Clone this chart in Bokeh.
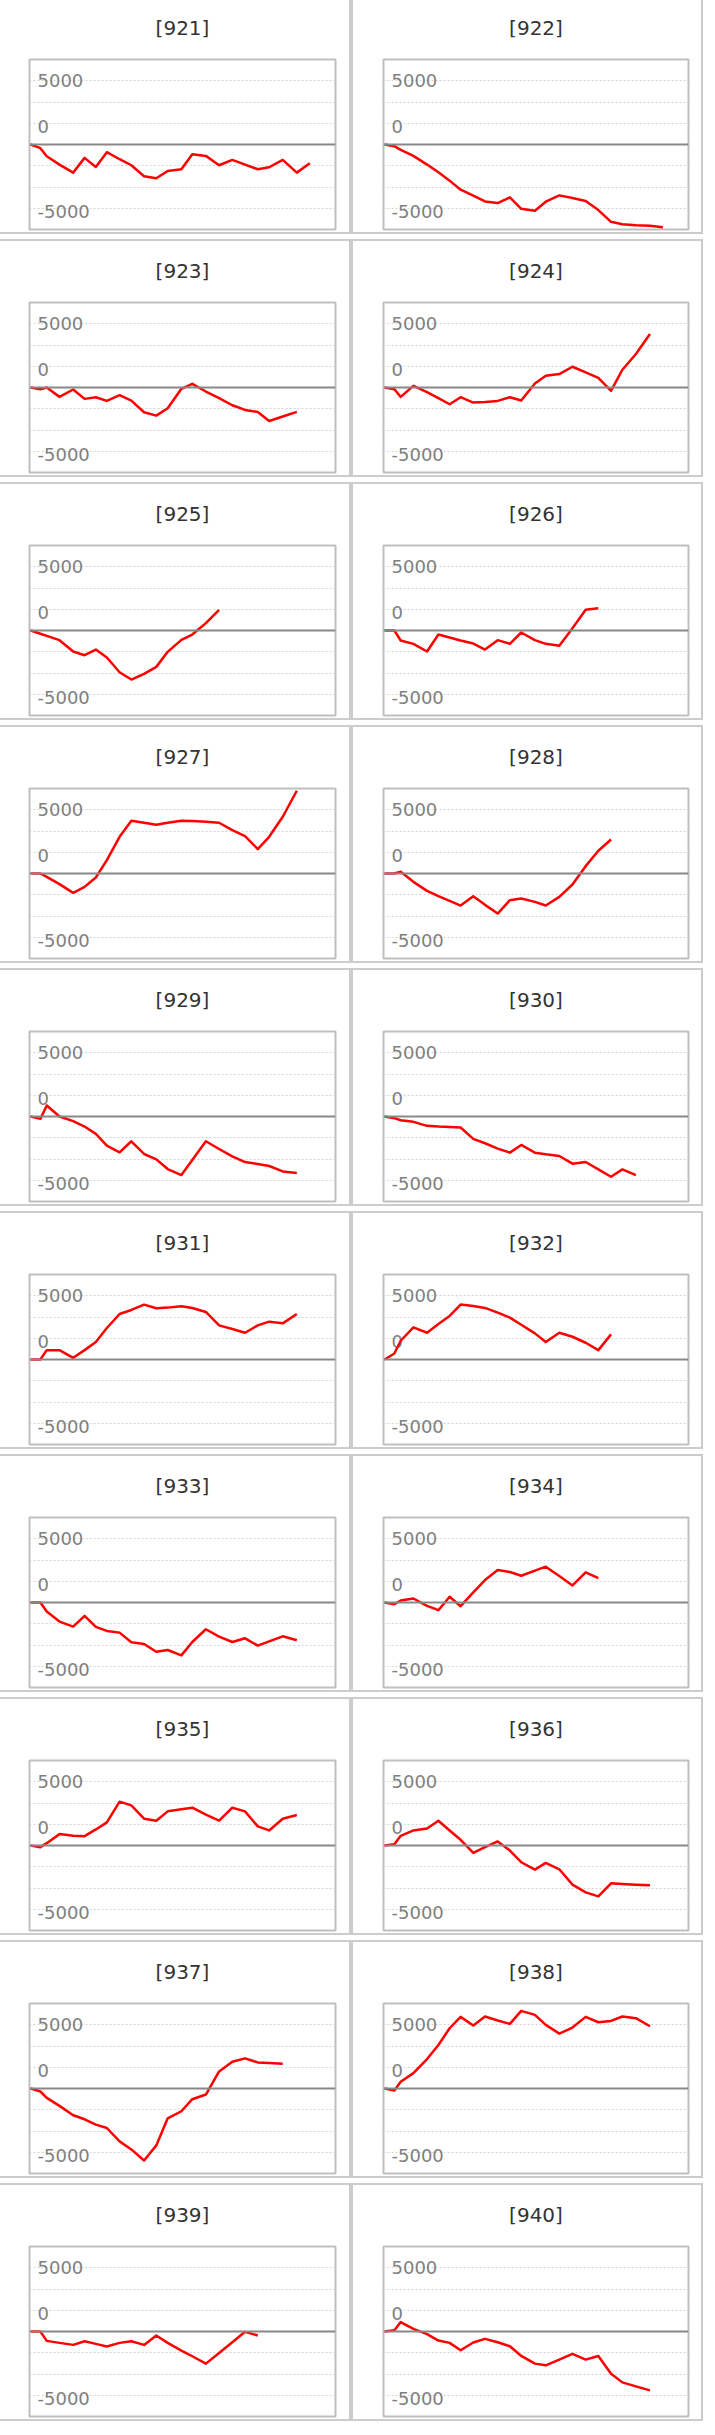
from bokeh.plotting import figure
from bokeh.layouts import column, row
from bokeh.models import Range1d, Span, FixedTicker, ColumnDataSource
from bokeh.core.properties import value
from bokeh.embed import file_html
from bokeh.resources import INLINE

# ---------------- data ----------------
panel_ids = [921, 922, 923, 924, 925, 926, 927, 928, 929, 930,
             931, 932, 933, 934, 935, 936, 937, 938, 939, 940]

# common sample positions along the x axis (axis span 0..25)
x_pos = [0.1, 0.89, 1.41, 2.45, 3.57, 4.5, 5.42, 6.32, 7.36, 8.32, 9.36, 10.36,
         11.29, 12.41, 13.3, 14.41, 15.49, 16.57, 17.61, 18.65, 19.58, 20.69, 21.84, 22.9]

s921 = [0, -289, -919, -1575, -2205, -1050, -1759, -604, -1155, -1628, -2494, -2651,
        -2074, -1943, -761, -893, -1628, -1208, -1575, -1943, -1785, -1208, -2205, -1470]
s922 = [0, -131, -420, -893, -1575, -2179, -2835, -3544, -4016, -4463, -4594, -4148,
        -5040, -5198, -4489, -3990, -4200, -4436, -5145, -6064, -6248, -6326, -6379, -6484]
s923 = [0, -131, 0, -735, -158, -893, -761, -1050, -604, -1024, -1943, -2205,
        -1628, -105, 289, -315, -840, -1391, -1759, -1916, -2625, -2270, -1916]
s924 = [0, -131, -735, 131, -368, -840, -1313, -761, -1181, -1129, -1050, -761,
        -1024, 315, 919, 1050, 1628, 1181, 761, -263, 1391, 2625, 4200]
s925 = [0, -255, -425, -759, -1649, -1937, -1492, -2120, -3271, -3847, -3402, -2853,
        -1675, -733, -314, 576, 1622]
s926 = [0, 0, -785, -1047, -1649, -314, -550, -785, -1021, -1492, -759, -1047,
        -157, -759, -1047, -1204, 183, 1622, 1753]
s927 = [0, 0, -262, -837, -1518, -1047, -314, 1047, 2879, 4135, 3978, 3821,
        3978, 4135, 4109, 4056, 3978, 3402, 2931, 1910, 2879, 4449, 6490]
s928 = [0, 0, 131, -654, -1361, -1780, -2146, -2512, -1780, -2460, -3140, -2094,
        -1963, -2224, -2512, -1832, -864, 576, 1780, 2669]
s929 = [0, -184, 866, 0, -368, -788, -1365, -2284, -2809, -1943, -2940, -3360,
        -4121, -4594, -3413, -1943, -2546, -3124, -3570, -3728, -3885, -4305, -4436]
s930 = [0, -131, -289, -420, -735, -788, -814, -866, -1759, -2100, -2520, -2835,
        -2231, -2835, -2966, -3098, -3701, -3570, -4148, -4725, -4148, -4594]
s931 = [0, 0, 735, 735, 131, 735, 1365, 2468, 3570, 3885, 4305, 4016,
        4069, 4174, 4043, 3728, 2678, 2389, 2100, 2678, 2966, 2835, 3570]
s932 = [0, 473, 1470, 2520, 2100, 2783, 3413, 4305, 4200, 4043, 3675, 3281,
        2730, 2048, 1365, 2100, 1785, 1313, 735, 1969]
s933 = [0, 0, -709, -1496, -1890, -1050, -1916, -2231, -2363, -3124, -3255, -3859,
        -3728, -4148, -3098, -2100, -2678, -3098, -2809, -3386, -3045, -2651, -2966]
s934 = [0, -131, 158, 315, -263, -604, 446, -289, 788, 1759, 2546, 2389,
        2100, 2494, 2809, 2074, 1339, 2363, 1916]
s935 = [0, -131, 184, 893, 761, 735, 1260, 1811, 3439, 3150, 2100, 1943,
        2678, 2835, 2966, 2415, 1943, 2966, 2678, 1496, 1181, 2100, 2389]
s936 = [0, 105, 761, 1181, 1339, 1943, 1181, 446, -578, -131, 315, -394,
        -1313, -1890, -1365, -1864, -3071, -3675, -3990, -2966, -3019, -3071, -3124]
s937 = [0, -236, -735, -1365, -2100, -2415, -2835, -3098, -4148, -4778, -5644, -4463,
        -2336, -1785, -840, -473, 1339, 2100, 2363, 2048, 1995, 1943]
s938 = [0, -158, 525, 1208, 2310, 3413, 4725, 5618, 4935, 5644, 5329, 5066,
        6090, 5775, 4988, 4305, 4778, 5618, 5198, 5303, 5644, 5513, 4883]
s939 = [0, 0, -735, -893, -1050, -761, -971, -1181, -893, -761, -1050, -315,
        -893, -1496, -1942, -2520, -1680, -840, -26, -315]
s940 = [0, 105, 735, 210, -210, -709, -893, -1470, -866, -578, -840, -1155,
        -1916, -2520, -2651, -2205, -1759, -2205, -1916, -3308, -3990, -4305, -4620]

series = [s921, s922, s923, s924, s925, s926, s927, s928, s929, s930,
          s931, s932, s933, s934, s935, s936, s937, s938, s939, s940]

tick_values = [5000, 0, -5000]
tick_labels = ["5000", "0", "-5000"]

# ---------------- styling / layout ----------------
Y_MAX = 20000 / 3.0          # frame spans +/- this
GRID_STEP = 5000 / 3.0
X_MAX = 25
FRAME_H = 170
UNITS_PER_PX = 2 * Y_MAX / FRAME_H
label_shift_px = [0, -18, 3]   # screen px (down positive) relative to tick value

grid_ticks = [k * GRID_STEP for k in (-3, -2, -1, 1, 2, 3)]

panel_style = {"outline": "2px solid #cccccc",
               "outline-offset": "-2px",
               "outlineOffset": "-2px",
               "outline_offset": "-2px"}


def make_panel(pid, ys, width, b_left, b_right, b_top, b_bottom):
    height = b_top + FRAME_H + b_bottom
    p = figure(width=width, height=height,
               x_range=Range1d(0, X_MAX), y_range=Range1d(-Y_MAX, Y_MAX),
               x_axis_location=None, y_axis_location=None,
               toolbar_location=None, tools="", output_backend="svg",
               min_border_left=b_left, min_border_right=b_right,
               min_border_top=b_top, min_border_bottom=b_bottom)
    p.title.text = "[%d]" % pid
    p.title.align = "center"
    p.title.vertical_align = "top"
    p.title.text_font = "DejaVu Sans"
    p.title.text_font_size = "20px"
    p.title.text_font_style = "normal"
    p.title.text_color = "#333333"
    p.title.standoff = 34.5

    p.background_fill_color = "white"
    p.border_fill_color = "white"
    p.border_fill_alpha = 0.0
    p.outline_line_color = "#bfbfbf"
    p.outline_line_width = 2

    p.xgrid.visible = False
    p.ygrid.ticker = FixedTicker(ticks=grid_ticks)
    p.ygrid.grid_line_color = "#d4d4d4"
    p.ygrid.grid_line_dash = "2 2"
    p.ygrid.grid_line_width = 1

    p.add_layout(Span(location=0, dimension="width",
                      line_color="#888888", line_width=2))

    label_y = [v - s * UNITS_PER_PX for v, s in zip(tick_values, label_shift_px)]
    lab_src = ColumnDataSource(dict(x=[0] * len(tick_values), y=label_y, t=tick_labels))
    p.text(x="x", y="y", text="t", source=lab_src, x_offset=8,
           text_align="left", text_baseline="middle",
           text_font=value("DejaVu Sans"), text_font_size="18px",
           text_color="#7f7f7f")

    p.line(x_pos[:len(ys)], ys, line_color="#ff0000", line_width=2.5,
           line_join="round")

    p.styles = dict(panel_style)
    return p


rows = []
for r in range(10):
    left = make_panel(panel_ids[2 * r], series[2 * r], 354, 32, 16, 63, 5)
    right = make_panel(panel_ids[2 * r + 1], series[2 * r + 1], 352, 32, 15, 63, 5)
    rows.append(row(left, right, spacing=0))

root = column(*rows, spacing=5, margin=(-4, 0, 0, -3))

open("out.html", "w").write(file_html(root, INLINE))
